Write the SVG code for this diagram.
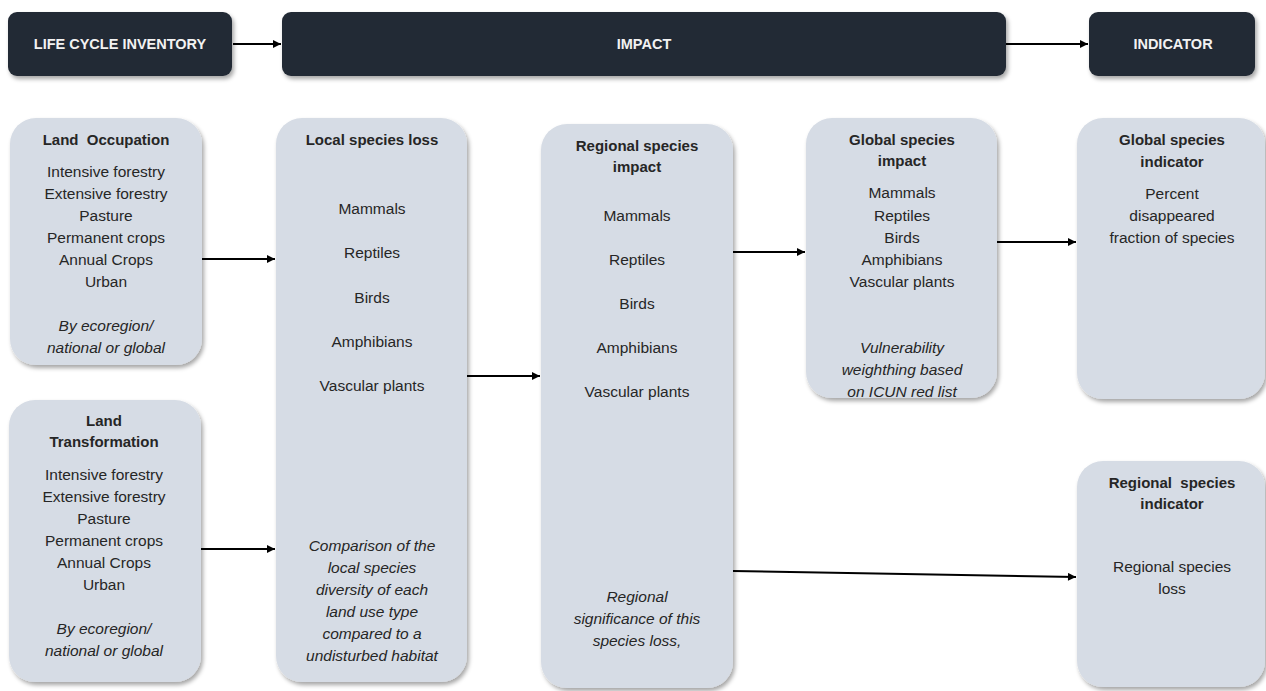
<svg xmlns="http://www.w3.org/2000/svg" width="1266" height="691" viewBox="0 0 1266 691">
<defs>
<filter id="sh" x="-10%" y="-10%" width="130%" height="130%">
<feDropShadow dx="2" dy="3" stdDeviation="2" flood-color="#000" flood-opacity="0.35"/>
</filter>
<marker id="ah" viewBox="0 0 10 10" refX="10" refY="5" markerWidth="9" markerHeight="8" markerUnits="userSpaceOnUse" orient="auto">
<path d="M0,0 L10,5 L0,10 z" fill="#000"/>
</marker>
<style>
.hdr{fill:#222a35;filter:url(#sh)}
.box{fill:#d6dce5;filter:url(#sh)}
.ht{font-family:"Liberation Sans",Arial,sans-serif;font-weight:bold;font-size:14.5px;fill:#f2f2f2;text-anchor:middle}
.tt{font-family:"Liberation Sans",Arial,sans-serif;font-weight:bold;font-size:15px;fill:#262626;text-anchor:middle}
.bt{font-family:"Liberation Sans",Arial,sans-serif;font-size:15.5px;fill:#262626;text-anchor:middle}
.it{font-family:"Liberation Sans",Arial,sans-serif;font-style:italic;font-size:15.5px;fill:#262626;text-anchor:middle}
.cn{stroke:#000;stroke-width:2;fill:none;marker-end:url(#ah)}
</style>
</defs>
<rect width="1266" height="691" fill="#fff"/>

<g id="connectors">
<line class="cn" x1="233" y1="44" x2="281" y2="44"/>
<line class="cn" x1="1006" y1="44" x2="1088" y2="44"/>
<line class="cn" x1="202" y1="259" x2="275" y2="259"/>
<line class="cn" x1="201" y1="549" x2="275" y2="549"/>
<line class="cn" x1="467" y1="376" x2="540" y2="376"/>
<line class="cn" x1="733" y1="252" x2="805" y2="252"/>
<line class="cn" x1="997" y1="242" x2="1076" y2="242"/>
<line class="cn" x1="733" y1="571" x2="1076" y2="577"/>
</g>

<g id="lci">
<rect class="hdr" x="8" y="12" width="224" height="64" rx="9"/>
<text class="ht" x="120" y="49">LIFE CYCLE INVENTORY</text>
</g>
<g id="impact">
<rect class="hdr" x="282" y="12" width="724" height="64" rx="9"/>
<text class="ht" x="644" y="49">IMPACT</text>
</g>
<g id="indicator">
<rect class="hdr" x="1089" y="12" width="166" height="64" rx="9"/>
<text class="ht" x="1173" y="49">INDICATOR</text>
</g>

<g id="land-occupation">
<rect class="box" x="10" y="118" width="192" height="247" rx="26"/>
<text class="tt" x="106" y="145" xml:space="preserve">Land  Occupation</text>
<text class="bt" x="106" y="177">Intensive forestry</text>
<text class="bt" x="106" y="199">Extensive forestry</text>
<text class="bt" x="106" y="221">Pasture</text>
<text class="bt" x="106" y="243">Permanent crops</text>
<text class="bt" x="106" y="265">Annual Crops</text>
<text class="bt" x="106" y="287">Urban</text>
<text class="it" x="106" y="331">By ecoregion/</text>
<text class="it" x="106" y="353">national or global</text>
</g>

<g id="land-transformation">
<rect class="box" x="9" y="400" width="192" height="282" rx="26"/>
<text class="tt" x="104" y="426">Land</text>
<text class="tt" x="104" y="447">Transformation</text>
<text class="bt" x="104" y="480">Intensive forestry</text>
<text class="bt" x="104" y="502">Extensive forestry</text>
<text class="bt" x="104" y="524">Pasture</text>
<text class="bt" x="104" y="546">Permanent crops</text>
<text class="bt" x="104" y="568">Annual Crops</text>
<text class="bt" x="104" y="590">Urban</text>
<text class="it" x="104" y="634">By ecoregion/</text>
<text class="it" x="104" y="656">national or global</text>
</g>

<g id="local-species-loss">
<rect class="box" x="276" y="118" width="191" height="564" rx="26"/>
<text class="tt" x="372" y="145">Local species loss</text>
<text class="bt" x="372" y="214">Mammals</text>
<text class="bt" x="372" y="258">Reptiles</text>
<text class="bt" x="372" y="303">Birds</text>
<text class="bt" x="372" y="347">Amphibians</text>
<text class="bt" x="372" y="391">Vascular plants</text>
<text class="it" x="372" y="551">Comparison of the</text>
<text class="it" x="372" y="573">local species</text>
<text class="it" x="372" y="595">diversity of each</text>
<text class="it" x="372" y="617">land use type</text>
<text class="it" x="372" y="639">compared to a</text>
<text class="it" x="372" y="661">undisturbed habitat</text>
</g>

<g id="regional-species-impact">
<rect class="box" x="541" y="124" width="192" height="564" rx="26"/>
<text class="tt" x="637" y="151">Regional species</text>
<text class="tt" x="637" y="172">impact</text>
<text class="bt" x="637" y="221">Mammals</text>
<text class="bt" x="637" y="265">Reptiles</text>
<text class="bt" x="637" y="309">Birds</text>
<text class="bt" x="637" y="353">Amphibians</text>
<text class="bt" x="637" y="397">Vascular plants</text>
<text class="it" x="637" y="602">Regional</text>
<text class="it" x="637" y="624">significance of this</text>
<text class="it" x="637" y="646">species loss,</text>
</g>

<g id="global-species-impact">
<rect class="box" x="806" y="118" width="191" height="280" rx="26"/>
<text class="tt" x="902" y="145">Global species</text>
<text class="tt" x="902" y="166">impact</text>
<text class="bt" x="902" y="198">Mammals</text>
<text class="bt" x="902" y="221">Reptiles</text>
<text class="bt" x="902" y="243">Birds</text>
<text class="bt" x="902" y="265">Amphibians</text>
<text class="bt" x="902" y="287">Vascular plants</text>
<text class="it" x="902" y="353">Vulnerability</text>
<text class="it" x="902" y="375">weighthing based</text>
<text class="it" x="902" y="397">on ICUN red list</text>
</g>

<g id="global-species-indicator">
<rect class="box" x="1077" y="118" width="188" height="281" rx="26"/>
<text class="tt" x="1172" y="145">Global species</text>
<text class="tt" x="1172" y="167">indicator</text>
<text class="bt" x="1172" y="199">Percent</text>
<text class="bt" x="1172" y="221">disappeared</text>
<text class="bt" x="1172" y="243">fraction of species</text>
</g>

<g id="regional-species-indicator">
<rect class="box" x="1077" y="461" width="188" height="226" rx="26"/>
<text class="tt" x="1172" y="488" xml:space="preserve">Regional  species</text>
<text class="tt" x="1172" y="509">indicator</text>
<text class="bt" x="1172" y="572">Regional species</text>
<text class="bt" x="1172" y="594">loss</text>
</g>
</svg>
